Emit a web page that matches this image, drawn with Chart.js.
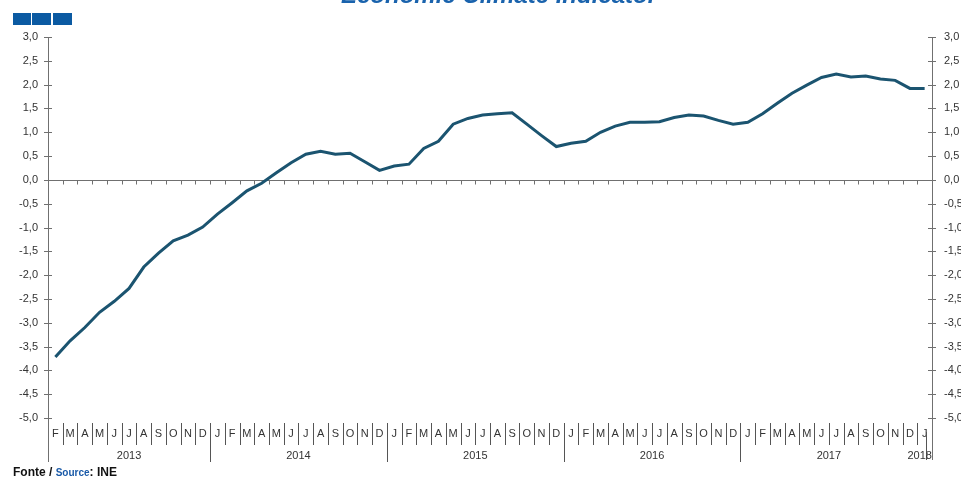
<!DOCTYPE html>
<html>
<head>
<meta charset="utf-8">
<script src="https://cdn.jsdelivr.net/npm/chart.js@4.4.0/dist/chart.umd.min.js"></script>
<style>
  html, body { margin:0; padding:0; background:#fff; }
  #wrap { width:961px; height:479px; position:relative; }
</style>
</head>
<body>
<div id="wrap"><canvas id="chClimate"></canvas></div>
<script>
// month letters, Feb 2013 .. Jan 2018
var months2013 = ['F','M','A','M','J','J','A','S','O','N','D'];
var monthsFull = ['J','F','M','A','M','J','J','A','S','O','N','D'];
var months2018 = ['J'];
var years = ['2013','2014','2015','2016','2017','2018'];

// indicator values
var values2013 = [-3.72, -3.38, -3.10, -2.78, -2.55, -2.28, -1.83, -1.54, -1.28, -1.16, -0.99];
var values2014 = [-0.72, -0.48, -0.23, -0.07, 0.15, 0.36, 0.54, 0.60, 0.54, 0.56, 0.38, 0.20];
var values2015 = [0.29, 0.33, 0.66, 0.81, 1.17, 1.29, 1.36, 1.39, 1.41, 1.17, 0.93, 0.70];
var values2016 = [0.77, 0.81, 1.00, 1.13, 1.21, 1.21, 1.22, 1.31, 1.36, 1.34, 1.25, 1.17];
var values2017 = [1.21, 1.39, 1.61, 1.82, 1.99, 2.15, 2.22, 2.16, 2.18, 2.12, 2.09, 1.92];
var values2018 = [1.92];

var yearValues = [values2013, values2014, values2015, values2016, values2017, values2018];
var yearMonths = [months2013, monthsFull, monthsFull, monthsFull, monthsFull, months2018];

var labels = [], values = [], yearStart = [];
yearValues.forEach(function(v, i){
  yearStart.push(values.length);
  values = values.concat(v);
  labels = labels.concat(yearMonths[i]);
});

var axisColor = '#707070';
var txtFont = {family:'"Liberation Sans", Arial, sans-serif', size:11};

function line(ctx, x1, y1, x2, y2){
  ctx.beginPath(); ctx.moveTo(x1, y1); ctx.lineTo(x2, y2); ctx.stroke();
}
function fmt(v){ return v.toFixed(1).replace('.', ','); }

var decorations = {
  id: 'decorations',
  beforeDatasetsDraw: function(chart){
    var ctx = chart.ctx, x = chart.scales.x, y = chart.scales.y, a = chart.chartArea;
    var step = x.width / labels.length;
    ctx.save();
    ctx.strokeStyle = axisColor; ctx.lineWidth = 1;
    var y0 = Math.round(y.getPixelForValue(0)) + 0.5;
    line(ctx, a.left, y0, a.right, y0);
    for (var i = 1; i < labels.length; i++){
      var bx = Math.round(x.getPixelForValue(i) - step/2) + 0.5;
      line(ctx, bx, y0, bx, y0 + 4);
    }
    ctx.restore();
  },
  afterDraw: function(chart){
    var ctx = chart.ctx, x = chart.scales.x, y = chart.scales.y, a = chart.chartArea;
    var step = x.width / labels.length;
    ctx.save();
    ctx.strokeStyle = axisColor; ctx.lineWidth = 1;
    // axis ticks crossing both vertical axes
    y.ticks.forEach(function(t){
      var py = Math.round(y.getPixelForValue(t.value)) + 0.5;
      line(ctx, a.left - 4, py, a.left + 4, py);
      line(ctx, a.right - 4, py, a.right + 4, py);
    });
    // vertical axes run down through the month band
    line(ctx, a.left + 0.5, a.bottom, a.left + 0.5, a.bottom + 44);
    line(ctx, a.right + 0.5, a.bottom, a.right + 0.5, a.bottom + 42);
    // month separators
    ctx.strokeStyle = '#555';
    for (var i = 1; i < labels.length; i++){
      var bx = Math.round(x.getPixelForValue(i) - step/2) + 0.5;
      line(ctx, bx, a.bottom + 5, bx, a.bottom + 27);
    }
    // year separators and labels
    ctx.fillStyle = '#333';
    ctx.font = '11px "Liberation Sans", Arial, sans-serif';
    ctx.textAlign = 'center'; ctx.textBaseline = 'middle';
    years.forEach(function(yr, k){
      var first = yearStart[k], last = first + yearValues[k].length - 1;
      var sx = x.getPixelForValue(first) - step/2;
      if (k > 0 && k < years.length - 1) line(ctx, Math.round(sx) + 0.5, a.bottom + 5, Math.round(sx) + 0.5, a.bottom + 44);
      if (k === years.length - 1) {
        var lx = Math.round(x.getPixelForValue(first)) + 1.5;
        line(ctx, lx, a.bottom + 14, lx, a.bottom + 42);
      }
      var cx = (k === 0 ? a.left : sx);
      var ex = x.getPixelForValue(last) + step/2;
      var mid = (cx + ex) / 2;
      if (k === years.length - 1) mid = x.getPixelForValue(first) - 5;
      ctx.fillText(yr, mid, a.bottom + 38);
    });
    // title (mostly above the frame)
    ctx.fillStyle = '#1a63ad';
    ctx.font = 'italic bold 24px "Liberation Sans", Arial, sans-serif';
    ctx.textBaseline = 'alphabetic';
    ctx.fillText('Economic Climate Indicator', 499, 3);
    // logo squares
    ctx.fillStyle = '#0b5aa2';
    ctx.fillRect(13, 13, 18, 12);
    ctx.fillRect(32, 13, 19, 12);
    ctx.fillRect(53, 13, 19, 12);
    // source line
    ctx.textAlign = 'left';
    ctx.fillStyle = '#111';
    ctx.font = 'bold 12px "Liberation Sans Narrow", "Liberation Sans", Arial, sans-serif';
    ctx.fillText('Fonte /', 13, 476);
    var w1 = ctx.measureText('Fonte / ').width;
    ctx.fillStyle = '#1a5aa8';
    ctx.font = 'bold 10px "Liberation Sans Narrow", "Liberation Sans", Arial, sans-serif';
    ctx.fillText('Source', 13 + w1, 476);
    var w2 = ctx.measureText('Source').width;
    ctx.fillStyle = '#111';
    ctx.font = 'bold 12px "Liberation Sans Narrow", "Liberation Sans", Arial, sans-serif';
    ctx.fillText(': INE', 13 + w1 + w2, 476);
    ctx.restore();
  }
};

var yTicks = {
  stepSize: 0.5, color: '#333', font: txtFont, padding: 10,
  callback: function(v){ return fmt(v); }
};

new Chart(document.getElementById('chClimate'), {
  type: 'line',
  data: {
    labels: labels,
    datasets: [{
      data: values,
      borderColor: '#1b5470',
      borderWidth: 3,
      pointRadius: 0,
      tension: 0,
      fill: false,
      yAxisID: 'y'
    }]
  },
  options: {
    responsive: true,
    maintainAspectRatio: false,
    animation: false,
    events: [],
    layout: {padding: {top: 37, right: 0, bottom: 0, left: 0}},
    plugins: {legend: {display: false}, tooltip: {enabled: false}},
    scales: {
      x: {
        type: 'category', offset: true,
        grid: {display: false, drawTicks: false},
        border: {display: false},
        ticks: {autoSkip: false, maxRotation: 0, color: '#333', font: txtFont, padding: 9},
        afterFit: function(s){ s.height = 61; }
      },
      y: {
        position: 'left', min: -5, max: 3,
        grid: {display: false, drawTicks: false},
        border: {display: true, color: axisColor, width: 1},
        ticks: yTicks,
        afterFit: function(s){ s.width = 48; }
      },
      y2: {
        position: 'right', min: -5, max: 3,
        grid: {display: false, drawTicks: false},
        border: {display: true, color: axisColor, width: 1},
        ticks: Object.assign({}, yTicks, {padding: 12}),
        afterFit: function(s){ s.width = 29; }
      }
    }
  },
  plugins: [decorations]
});
</script>
</body>
</html>
